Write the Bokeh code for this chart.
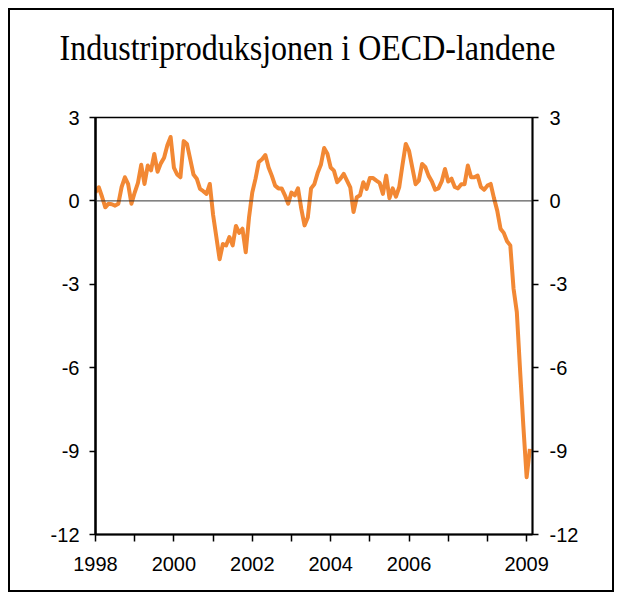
from bokeh.plotting import figure
from bokeh.models import LinearAxis, FixedTicker, Span, Range1d, Div
from bokeh.layouts import column
from bokeh.embed import file_html
from bokeh.resources import INLINE

title_text = "Industriproduksjonen i OECD-landene"
start_year = 1998

v1998 = [0.31, 0.49, 0.15, -0.23, -0.10, -0.12, -0.17, -0.10, 0.50, 0.85, 0.60, -0.10]
v1999 = [0.30, 0.65, 1.30, 0.61, 1.27, 1.10, 1.69, 1.05, 1.35, 1.55, 2.00, 2.30]
v2000 = [1.20, 0.95, 0.85, 2.15, 2.05, 1.50, 0.95, 0.80, 0.43, 0.35, 0.25, 0.61]
v2001 = [-0.50, -1.30, -2.10, -1.55, -1.60, -1.30, -1.60, -0.90, -1.15, -1.00, -1.85, -0.60]
v2002 = [0.30, 0.80, 1.40, 1.50, 1.65, 1.20, 0.90, 0.55, 0.45, 0.45, 0.20, -0.10]
v2003 = [0.30, 0.20, 0.45, -0.28, -0.88, -0.60, 0.45, 0.60, 1.00, 1.30, 1.90, 1.70]
v2004 = [1.20, 1.09, 0.67, 0.80, 0.97, 0.73, 0.49, -0.40, 0.13, 0.20, 0.67, 0.43]
v2005 = [0.82, 0.82, 0.73, 0.65, 0.25, 0.91, 0.10, 0.45, 0.15, 0.50, 1.30, 2.05]
v2006 = [1.80, 1.20, 0.60, 0.73, 1.33, 1.21, 0.90, 0.70, 0.40, 0.45, 0.70, 1.15]
v2007 = [0.70, 0.80, 0.50, 0.45, 0.60, 0.60, 1.27, 0.85, 0.85, 0.91, 0.50, 0.40]
v2008 = [0.55, 0.61, 0.10, -0.35, -1.00, -1.15, -1.45, -1.60, -3.16, -4.00, -6.10, -8.10]
v2009 = [-9.94, -8.92]

values = v1998 + v1999 + v2000 + v2001 + v2002 + v2003 + v2004 + v2005 + v2006 + v2007 + v2008 + v2009
times = [start_year + i / 12 for i in range(len(values))]

y_ticks = [-12, -9, -6, -3, 0, 3]
y_labels = {t: str(t) for t in y_ticks}
x_ticks = list(range(1998, 2010))
x_labels = {1998: "1998", 2000: "2000", 2002: "2002", 2004: "2004", 2006: "2006", 2009: "2009"}

title_div = Div(
    text=('<div style="font-family: \'Liberation Serif\', serif; font-size: 32px; '
          'line-height: 32px; padding-top: 23px; text-align: center; width: 595px; '
          'color: black; white-space: nowrap; transform: scaleY(1.15); '
          'transform-origin: 50% 50px;">' + title_text + '</div>'),
    width=602, height=70, margin=0)

p = figure(width=602, height=510, output_backend="svg", toolbar_location=None,
           x_range=Range1d(1998, 2009.15), y_range=Range1d(-12, 3),
           min_border_left=85, min_border_right=80, min_border_top=37, min_border_bottom=56)

p.xgrid.visible = False
p.ygrid.visible = False
p.outline_line_color = "black"
p.outline_line_width = 1.3

p.add_layout(Span(location=0, dimension="width", line_color="#333333", line_width=1))
p.line(times, values, line_color="#F28834", line_width=4, line_join="round")

right = LinearAxis()
p.add_layout(right, "right")

for ax, lw, sd in [(p.yaxis[0], 2.5, 10), (right, 2, 11)]:
    ax.ticker = FixedTicker(ticks=y_ticks)
    ax.major_label_overrides = y_labels
    ax.axis_line_width = lw
    ax.axis_line_color = "black"
    ax.major_tick_in = 0
    ax.major_tick_out = 6
    ax.major_tick_line_width = 1.5
    ax.minor_tick_in = 0
    ax.minor_tick_out = 0
    ax.major_label_text_font = "Liberation Sans"
    ax.major_label_text_font_size = "20px"
    ax.major_label_text_color = "black"
    ax.major_label_standoff = sd

xa = p.xaxis[0]
xa.ticker = FixedTicker(ticks=x_ticks)
xa.major_label_overrides = {t: x_labels.get(t, "") for t in x_ticks}
xa.axis_line_width = 2
xa.major_tick_in = 0
xa.major_tick_out = 7
xa.major_tick_line_width = 1.5
xa.minor_tick_in = 0
xa.minor_tick_out = 0
xa.major_label_text_font = "Liberation Sans"
xa.major_label_text_font_size = "20px"
xa.major_label_text_color = "black"
xa.major_label_standoff = 15

layout = column(title_div, p, spacing=0,
                styles={"border": "2px solid black", "margin": "8px"})

open("out.html", "w").write(file_html(layout, INLINE))
